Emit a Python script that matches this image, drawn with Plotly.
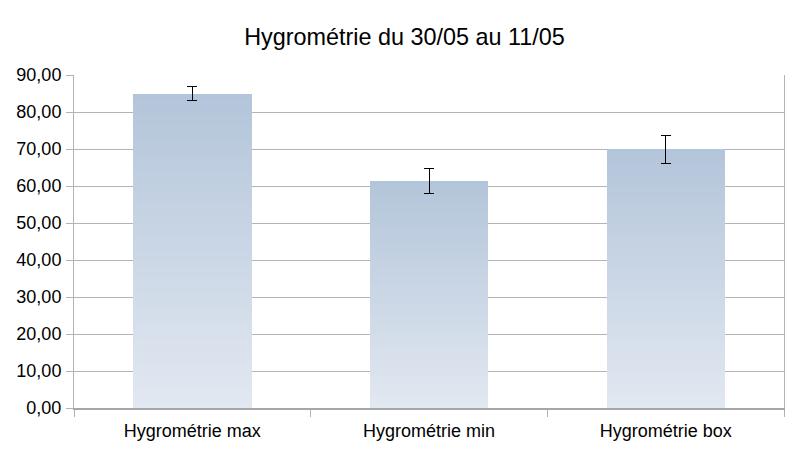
import plotly.graph_objects as go

# Data
categories = ['Hygrométrie max', 'Hygrométrie min', 'Hygrométrie box']
values = [84.9, 61.3, 69.9]
errors = [1.9, 3.35, 3.75]

# Vertical gradient of the bars (LibreOffice style): built from stacked slices
n_slices = 60
top_rgb = (179, 197, 218)
bottom_rgb = (226, 232, 241)


def blend(t):
    r = [round(b + (a - b) * t) for a, b in zip(top_rgb, bottom_rgb)]
    return f'rgb({r[0]},{r[1]},{r[2]})'


fig = go.Figure()
for i in range(n_slices):
    last = i == n_slices - 1
    fig.add_trace(go.Bar(
        x=categories,
        y=[v / n_slices for v in values],
        marker=dict(color=blend((i + 0.5) / n_slices), line=dict(width=0)),
        error_y=dict(type='data', array=errors, visible=last,
                     color='black', thickness=1, width=5),
        showlegend=False,
        hoverinfo='skip' if not last else None,
    ))

# page body has an 8px margin, so the figure is 8px smaller than the window
fig.update_layout(
    barmode='stack',
    bargap=0.5,
    width=793, height=443,
    separators=', ',
    paper_bgcolor='white',
    plot_bgcolor='white',
    font=dict(family='Liberation Sans, Arial, sans-serif', size=18, color='black'),
    title=dict(text='Hygrométrie du 30/05 au 11/05', x=0.5, xanchor='center',
               y=1 - 29 / 443, yref='container', yanchor='middle',
               font=dict(size=23.4, color='black')),
    margin=dict(l=66, r=17, t=67, b=43),
)

fig.update_yaxes(
    range=[0, 90], dtick=10, tickformat='.2f',
    showgrid=True, gridcolor='#b3b3b3', gridwidth=1,
    showline=True, linecolor='#b3b3b3', linewidth=1, mirror=True,
    ticks='outside', ticklen=7, tickcolor='#b3b3b3',
    zeroline=False, ticklabelstandoff=1, automargin=False,
)
fig.update_xaxes(
    showline=True, linecolor='#a6a6a6', linewidth=1.5,
    ticks='outside', tickson='boundaries', ticklen=7, tickcolor='#b3b3b3',
    showgrid=False, ticklabelstandoff=6, automargin=False,
)

fig.write_html('out.html')
